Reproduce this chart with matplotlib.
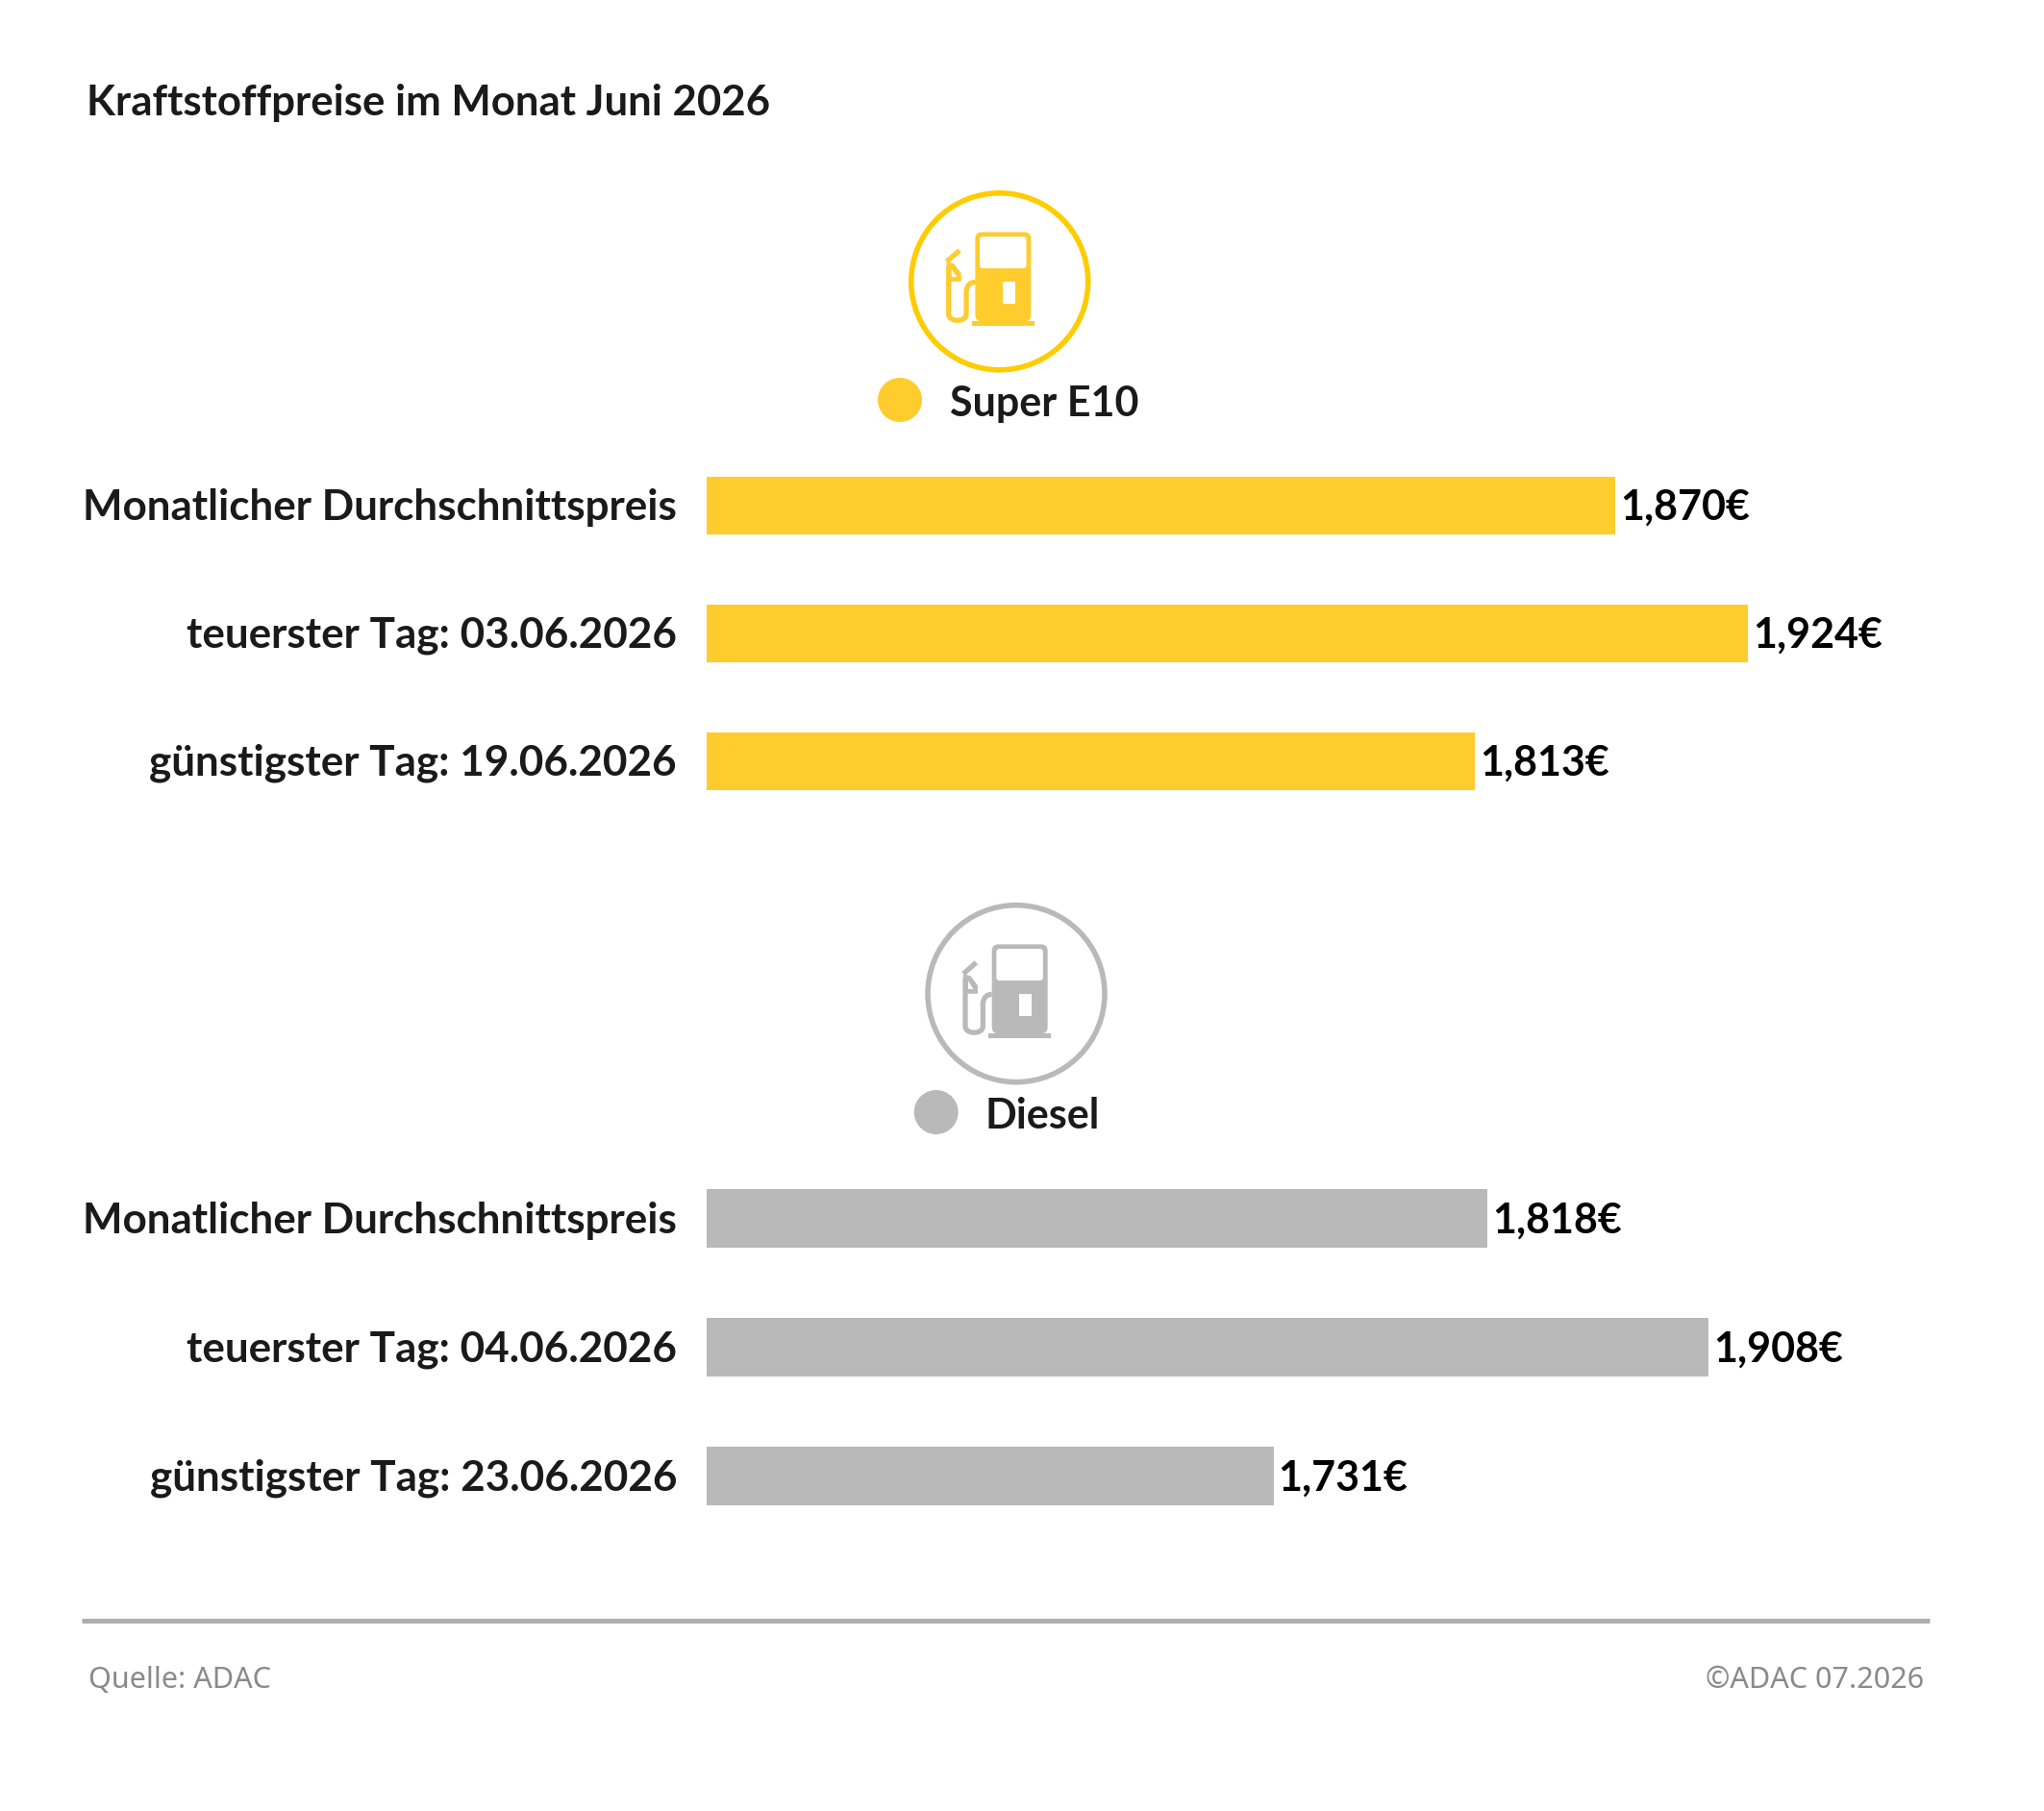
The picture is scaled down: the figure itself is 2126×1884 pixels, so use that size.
"""ADAC Kraftstoffpreise Juni 2026 - horizontal bars with pump icons."""

import matplotlib
matplotlib.use("Agg")
import matplotlib.pyplot as plt
from matplotlib.patches import Circle, FancyBboxPatch, PathPatch, Polygon, Rectangle
from matplotlib.path import Path

W, H = 2126, 1884

TITLE = "Kraftstoffpreise im Monat Juni 2026"
E10_LABELS = ["Monatlicher Durchschnittspreis", "teuerster Tag: 03.06.2026", "günstigster Tag: 19.06.2026"]
E10_VALUES = [1.870, 1.924, 1.813]
DIESEL_LABELS = ["Monatlicher Durchschnittspreis", "teuerster Tag: 04.06.2026", "günstigster Tag: 23.06.2026"]
DIESEL_VALUES = [1.818, 1.908, 1.731]

YELLOW = "#FFCC2E"
RING_YELLOW = "#FFCC00"
GREY = "#B9B9B9"
TEXT = "#1A1A1A"

BOLD = ["Lato", "DejaVu Sans"]
plt.rcParams["font.family"] = ["Noto Sans", "DejaVu Sans"]
LABEL_SIZE = 31.7
VALUE_SIZE = 31


def draw_pump(ax, cx, cy, ring, fill):
    # coordinates taken from a 3x crop, so everything is divided by 3
    def p(x, y):
        return cx + x / 3, cy + y / 3

    ax.add_patch(Circle((cx, cy), 92, fc="white", ec=ring, lw=4))
    x0, y0 = p(-76, -154)
    ax.add_patch(FancyBboxPatch((x0 + 6, y0 + 6), 46, 81, boxstyle="round,pad=6,rounding_size=7",
                                fc=fill, ec="none"))
    ax.add_patch(Rectangle(p(-87, 124), 65, 5, fc=fill, ec="none"))
    x0, y0 = p(-62, -140)
    ax.add_patch(FancyBboxPatch((x0 + 3, y0 + 3), 42.5, 27, boxstyle="round,pad=3,rounding_size=3",
                                fc="white", ec="none"))
    ax.add_patch(Rectangle(p(10, 1), 13, 23, fc="white", ec="none"))
    # hose
    hose = Path([p(-76, 2), p(-100, 2), p(-104, 30), p(-104, 102), p(-104, 128), p(-159, 128),
                 p(-159, 102), p(-159, -50)],
                [Path.MOVETO, Path.CURVE3, Path.CURVE3, Path.LINETO, Path.CURVE4, Path.CURVE4,
                 Path.CURVE4, Path.LINETO])
    ax.add_patch(PathPatch(hose, fc="none", ec=fill, lw=3.8))
    # nozzle
    ax.add_patch(Polygon([p(-165, -62), p(-125, -97)], closed=False, fill=False, ec=fill, lw=3.8))
    ax.add_patch(Polygon([p(-166, -62), p(-142, -55), p(-120, -25), p(-120, 0), p(-158, 0)],
                         fc=fill, ec="none"))
    ax.add_patch(Polygon([p(-150, -40), p(-134, -14), p(-150, -14)], fc="white", ec="none"))


def draw_group(fig, center, pitch, bar_h, labels, values, color):
    # bars share one scale, the value axis starts at about 1.50 EUR
    left, right = 735, 2000
    top = center - 1.5 * pitch
    ax = fig.add_axes([left / W, 1 - (top + 3 * pitch) / H, (right - left) / W, 3 * pitch / H])
    ax.barh(range(3), values, height=bar_h / pitch, color=color)
    ax.set_xlim(1.5005, 1.5005 + (right - left) / 2558)
    ax.set_ylim(2.5, -0.5)
    ax.axis("off")
    for i, (lab, val) in enumerate(zip(labels, values)):
        ax.annotate(lab, (0, i), xycoords=ax.get_yaxis_transform(), xytext=(-31, 1.5),
                    textcoords="offset pixels", ha="right", va="center_baseline",
                    fontsize=LABEL_SIZE, fontweight="bold", color=TEXT, family=BOLD)
        ax.annotate(f"{val:.3f}€".replace(".", ","), (val, i), xytext=(5, 1.5), textcoords="offset pixels",
                    ha="left", va="center_baseline", fontsize=VALUE_SIZE, fontweight="bold",
                    color="black", family=BOLD)


fig = plt.figure(figsize=(W / 100, H / 100), dpi=100, facecolor="white")

draw_group(fig, 659, 133, 60, E10_LABELS, E10_VALUES, YELLOW)
draw_group(fig, 1401.5, 134, 61, DIESEL_LABELS, DIESEL_VALUES, GREY)

# overlay in pixel coordinates for title, icons, footer
deco = fig.add_axes([0, 0, 1, 1], facecolor="none")
deco.set_xlim(0, W)
deco.set_ylim(H, 0)
deco.axis("off")

deco.text(90, 120, TITLE, fontsize=31.5, fontweight="bold", color=TEXT, ha="left", va="baseline", family=BOLD)

draw_pump(deco, 1039.7, 292.8, RING_YELLOW, YELLOW)
draw_pump(deco, 1057, 1033.7, GREY, GREY)

deco.add_patch(Circle((936, 416), 23, fc=YELLOW, ec="none"))
deco.text(988, 432.5, "Super E10", fontsize=VALUE_SIZE, fontweight="bold", color=TEXT, ha="left", va="baseline", family=BOLD)
deco.add_patch(Circle((973.7, 1157), 23, fc=GREY, ec="none"))
deco.text(1025, 1173.5, "Diesel", fontsize=VALUE_SIZE, fontweight="bold", color=TEXT, ha="left", va="baseline", family=BOLD)

deco.plot([85, 2007], [1686, 1686], color="#AEAEAE", lw=3.6, solid_capstyle="butt")
deco.text(92, 1756, "Quelle: ADAC", fontsize=22, color="#8A8A8A", ha="left", va="baseline")
deco.text(2001, 1756, "©ADAC 07.2026", fontsize=22, color="#8A8A8A", ha="right", va="baseline")

fig.savefig("out.png", dpi=100)
